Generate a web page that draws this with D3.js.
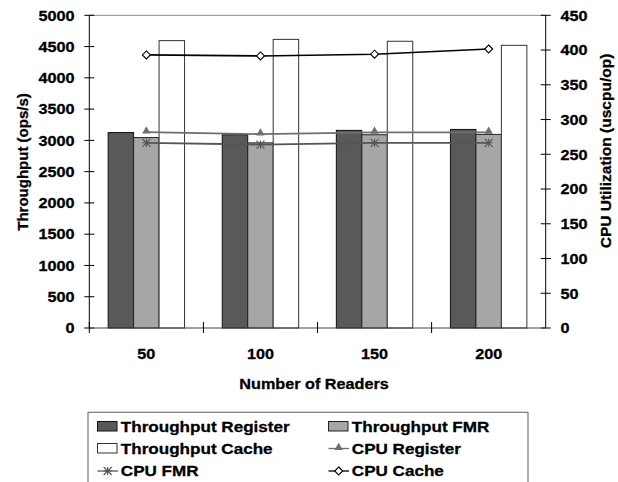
<!DOCTYPE html>
<html>
<head>
<meta charset="utf-8">
<script src="https://cdn.jsdelivr.net/npm/d3@7"></script>
<style>
  html, body { margin: 0; padding: 0; background: #fff; }
  svg { display: block; }
  text { font-family: "Liberation Sans", Arial, Helvetica, sans-serif; font-weight: bold; fill: #000; stroke: #000; stroke-width: 0.3px; }
</style>
</head>
<body>
<svg id="chart" width="618" height="482"></svg>
<script>
// Number of readers on the x axis
const readers = ["50", "100", "150", "200"];

// Throughput (ops/s), left axis
const throughputRegister = [3125, 3090, 3160, 3175];
const throughputFMR      = [3045, 2960, 3090, 3095];
const throughputCache    = [4595, 4615, 4585, 4520];

// CPU utilization (uscpu/op), right axis
const cpuRegister = [282, 279, 281.5, 281.5];
const cpuFMR      = [266.5, 264, 266.5, 266.5];
const cpuCache    = [393, 391.5, 394, 401.5];

const leftTicks  = [0, 500, 1000, 1500, 2000, 2500, 3000, 3500, 4000, 4500, 5000];
const rightTicks = [0, 50, 100, 150, 200, 250, 300, 350, 400, 450];

const barSeries = [
  { name: "Throughput Register", values: throughputRegister, fill: "#595959", stroke: "#111" },
  { name: "Throughput FMR",      values: throughputFMR,      fill: "#a6a6a6", stroke: "#222" },
  { name: "Throughput Cache",    values: throughputCache,    fill: "#ffffff", stroke: "#333" }
];
const lineSeries = [
  { name: "CPU Register", values: cpuRegister, color: "#6e6e6e", marker: "triangle" },
  { name: "CPU FMR",      values: cpuFMR,      color: "#555555", marker: "star" },
  { name: "CPU Cache",    values: cpuCache,    color: "#000000", marker: "diamond" }
];

const svg = d3.select("#chart");
const plot = { left: 89.3, right: 545.7, top: 15.3, bottom: 328 };
const sx = 1.08; // horizontal text stretch

const x = d3.scaleBand().domain(readers).range([plot.left, plot.right]).padding(0);
const xInner = d3.scaleBand().domain(barSeries.map(d => d.name))
  .range([0, x.bandwidth()]).paddingInner(0).paddingOuter(0.74);
const yL = d3.scaleLinear().domain([0, 5000]).range([plot.bottom, plot.top]);
const yR = d3.scaleLinear().domain([0, 450]).range([plot.bottom, plot.top]);

function label(g, tx, ty, str, anchor, size, stretch) {
  return g.append("text")
    .attr("transform", `translate(${tx},${ty}) scale(${stretch},1)`)
    .attr("text-anchor", anchor)
    .style("font-size", size + "px")
    .text(str);
}

// plot frame: top border
svg.append("line")
  .attr("x1", plot.left).attr("x2", plot.right)
  .attr("y1", plot.top).attr("y2", plot.top)
  .attr("stroke", "#8a8a8a").attr("stroke-width", 1);

// bars
barSeries.forEach(s => {
  svg.append("g").selectAll("rect").data(s.values).join("rect")
    .attr("x", (d, i) => x(readers[i]) + xInner(s.name))
    .attr("y", d => yL(d))
    .attr("width", xInner.bandwidth())
    .attr("height", d => yL(0) - yL(d))
    .attr("fill", s.fill)
    .attr("stroke", s.stroke)
    .attr("stroke-width", 1);
});

// lines
const cx = i => x(readers[i]) + x.bandwidth() / 2;
const lineGen = d3.line().x((d, i) => cx(i)).y(d => yR(d));

function drawMarker(g, type, px, py, color) {
  if (type === "triangle") {
    g.append("path")
      .attr("d", d3.symbol().type(d3.symbolTriangle).size(30)())
      .attr("transform", `translate(${px},${py - 1})`)
      .attr("fill", color).attr("stroke", "none");
  } else if (type === "star") {
    const r = 4;
    const p = `M${-r},${-r}L${r},${r}M${-r},${r}L${r},${-r}M${-r},0L${r},0M0,${-r}L0,${r}`;
    g.append("path").attr("d", p)
      .attr("transform", `translate(${px},${py})`)
      .attr("stroke", color).attr("stroke-width", 1.1).attr("fill", "none");
  } else if (type === "diamond") {
    const r = 4;
    g.append("path").attr("d", `M0,${-r}L${r},0L0,${r}L${-r},0Z`)
      .attr("transform", `translate(${px},${py})`)
      .attr("fill", "#fff").attr("stroke", color).attr("stroke-width", 1.1);
  }
}

lineSeries.forEach(s => {
  const g = svg.append("g");
  g.append("path").datum(s.values)
    .attr("d", lineGen)
    .attr("fill", "none")
    .attr("stroke", s.color)
    .attr("stroke-width", s.marker === "diamond" ? 1.6 : 1.8);
  s.values.forEach((v, i) => drawMarker(g, s.marker, cx(i), yR(v), s.color));
});

// left axis
const gL = svg.append("g");
gL.append("line").attr("x1", plot.left).attr("x2", plot.left)
  .attr("y1", plot.top).attr("y2", plot.bottom).attr("stroke", "#000");
leftTicks.forEach(t => {
  gL.append("line").attr("x1", plot.left - 5).attr("x2", plot.left + 5)
    .attr("y1", yL(t)).attr("y2", yL(t)).attr("stroke", "#000");
  label(gL, 74.5, yL(t) + 5.3, d3.format("d")(t), "end", 15, sx);
});

// right axis
const gR = svg.append("g");
gR.append("line").attr("x1", plot.right).attr("x2", plot.right)
  .attr("y1", plot.top).attr("y2", plot.bottom).attr("stroke", "#000");
rightTicks.forEach(t => {
  gR.append("line").attr("x1", plot.right - 5).attr("x2", plot.right + 5)
    .attr("y1", yR(t)).attr("y2", yR(t)).attr("stroke", "#000");
  label(gR, 560.5, yR(t) + 5.3, d3.format("d")(t), "start", 15, sx);
});

// bottom axis
const gB = svg.append("g");
gB.append("line").attr("x1", plot.left).attr("x2", plot.right)
  .attr("y1", plot.bottom).attr("y2", plot.bottom).attr("stroke", "#444").attr("stroke-width", 1.2);
readers.forEach((r, i) => {
  const bx = x(r);
  gB.append("line").attr("x1", bx).attr("x2", bx)
    .attr("y1", plot.bottom - 6).attr("y2", plot.bottom + 5).attr("stroke", "#000");
  label(gB, bx + x.bandwidth() / 2, 359, r, "middle", 15, sx);
});

// axis titles
label(svg, 314, 388.5, "Number of Readers", "middle", 15, sx);
svg.append("text")
  .attr("transform", "translate(28,162) rotate(-90)")
  .attr("text-anchor", "middle").style("font-size", "15px")
  .text("Throughput (ops/s)");
svg.append("text")
  .attr("transform", "translate(611,151) rotate(-90)")
  .attr("text-anchor", "middle").style("font-size", "15.5px")
  .text("CPU Utilization (uscpu/op)");

// legend
const lg = svg.append("g");
lg.append("rect").attr("x", 88).attr("y", 412.3).attr("width", 440).attr("height", 90)
  .attr("fill", "#fff").attr("stroke", "#777").attr("stroke-width", 1.2);
const legendItems = [
  ...barSeries.map(s => ({ kind: "bar", s })),
  ...lineSeries.map(s => ({ kind: "line", s }))
];
const colX = [97.5, 328.5];
const rowY = [431.5, 453.5, 476];
legendItems.forEach((it, k) => {
  const col = k % 2, row = Math.floor(k / 2);
  const lx = colX[col], ly = rowY[row];
  if (it.kind === "bar") {
    lg.append("rect").attr("x", lx).attr("y", ly - 10).attr("width", 19.5).attr("height", 9.5)
      .attr("fill", it.s.fill).attr("stroke", it.s.stroke).attr("stroke-width", 1);
  } else {
    lg.append("line").attr("x1", lx).attr("x2", lx + 20.5)
      .attr("y1", ly - 5).attr("y2", ly - 5)
      .attr("stroke", it.s.color).attr("stroke-width", 1.3);
    drawMarker(lg, it.s.marker, lx + 10.2, ly - 5, it.s.color);
  }
  label(lg, lx + 23.3, ly, it.s.name, "start", 15.4, 1.11);
});
</script>
</body>
</html>
